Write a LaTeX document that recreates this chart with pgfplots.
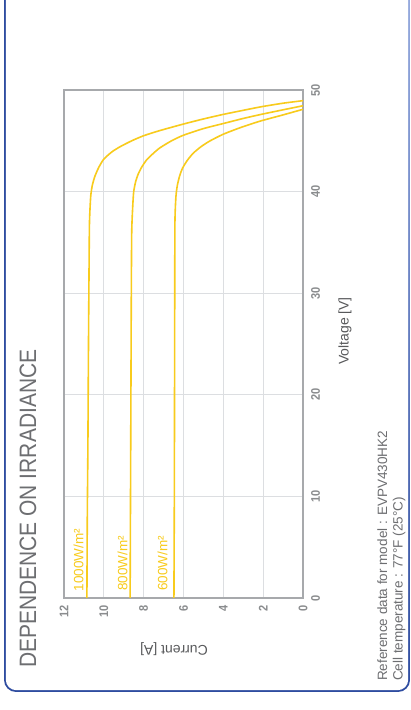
\documentclass[border=0pt]{standalone}
\usepackage{fontspec}
\setmainfont{Liberation Sans}
\newfontfamily\titlefont[FakeStretch=0.885]{Liberation Sans}
\newfontfamily\narrowfont[FakeStretch=0.88]{Liberation Sans}
\usepackage{pgfplots}
\pgfplotsset{compat=1.18}
\usetikzlibrary{shadings}
\definecolor{pvyellow}{HTML}{F8CB1C}
\definecolor{framegray}{HTML}{A7A9AC}
\definecolor{gridgray}{HTML}{DCDEE1}
\definecolor{textgray}{HTML}{6D6E71}
\definecolor{tickgray}{HTML}{8A8C8E}
\definecolor{labelgray}{HTML}{58595B}
\definecolor{bluedark}{HTML}{2E4CA0}
\definecolor{bluelight}{HTML}{9AAEE0}

% I-V curves (current A, voltage V)
\pgfplotstableread{
I V
10.85 0
10.83 8
10.80 15
10.77 25
10.74 33
10.72 37
10.66 39.5
10.58 40.6
10.45 41.5
10.25 42.4
10.00 43.2
9.60 43.9
9.20 44.4
8.60 45.0
8.00 45.5
7.20 46.0
6.00 46.65
5.00 47.15
4.00 47.6
3.00 48.0
2.10 48.35
1.00 48.7
0.00 48.95
}\irrA
\pgfplotstableread{
I V
8.68 0
8.66 10
8.64 20
8.62 30
8.60 36
8.55 38.5
8.50 40.0
8.40 41.0
8.28 41.7
8.10 42.4
7.86 43.1
7.55 43.7
7.19 44.3
6.60 45.0
6.00 45.55
5.00 46.2
4.00 46.7
3.00 47.2
2.10 47.6
1.00 48.05
0.00 48.45
}\irrB
\pgfplotstableread{
I V
6.48 0
6.46 10
6.45 20
6.44 30
6.43 37
6.38 39.5
6.31 40.6
6.20 41.5
6.05 42.3
5.80 43.1
5.50 43.8
5.10 44.45
4.66 45.0
4.00 45.65
3.14 46.3
2.13 46.95
1.00 47.55
0.00 48.1
}\irrC

\begin{document}
\begin{tikzpicture}
\path[use as bounding box] (0pt,0pt) rectangle (411pt,710pt);
% panel border
\shade[rounded corners=12pt, upper left=bluedark, lower left=bluedark,
  lower right=bluedark, upper right=bluelight] (4pt,18pt) rectangle (410pt,740pt);
\fill[white, rounded corners=10.5pt] (5.8pt,19.8pt) rectangle (408.2pt,740pt);

\begin{axis}[
  at={(64pt,112pt)}, anchor=south west,
  width=239pt, height=508pt, scale only axis,
  xmin=0, xmax=12, x dir=reverse,
  ymin=0, ymax=50,
  xtick={0,2,...,12}, ytick={0,10,...,50},
  grid=major,
  grid style={gridgray, line width=1.3pt},
  axis line style={framegray, line width=1.6pt},
  major tick length=0pt,
  yticklabel pos=right,
  /pgf/number format/assume math mode=true,
  xticklabel style={rotate=90, anchor=east, inner sep=0pt,
    font=\narrowfont\bfseries\fontsize{12.5}{13}\selectfont, text=tickgray},
  yticklabel style={rotate=90, anchor=north, inner sep=0pt,
    font=\narrowfont\bfseries\fontsize{12.5}{13}\selectfont, text=tickgray},
  xticklabel shift=7pt, yticklabel shift=8pt,
]
\addplot[pvyellow, line width=1.6pt, mark=none, smooth, tension=0.4] table[x=I, y=V] {\irrA};
\addplot[pvyellow, line width=1.6pt, mark=none, smooth, tension=0.4] table[x=I, y=V] {\irrB};
\addplot[pvyellow, line width=1.6pt, mark=none, smooth, tension=0.4] table[x=I, y=V] {\irrC};
\begin{scope}[every node/.style={rotate=90, anchor=base west, inner sep=0pt,
    text=pvyellow, font=\fontsize{13.5}{15}\selectfont}]
\node at (axis cs:11.03,0.62) {1000W/m²};
\node at (axis cs:8.82,0.69) {800W/m²};
\node at (axis cs:6.81,0.69) {600W/m²};
\end{scope}
\end{axis}

% title and labels
\node[rotate=90, anchor=base west, inner sep=0pt, text=textgray,
  font=\titlefont\fontsize{23.7}{26}\selectfont] at (36pt,42pt) {DEPENDENCE ON IRRADIANCE};
\node[rotate=180, text=labelgray, font=\fontsize{14}{16}\selectfont] at (174pt,61pt) {Current [A]};
\node[rotate=90, text=labelgray, font=\fontsize{14}{16}\selectfont] at (345pt,379pt) {Voltage [V]};
\node[rotate=90, anchor=base west, inner sep=0pt, text=textgray,
  font=\fontsize{13.5}{15.5}\selectfont] at (387pt,29pt) {Reference data for model : EVPV430HK2};
\node[rotate=90, anchor=base west, inner sep=0pt, text=textgray,
  font=\fontsize{13.5}{15.5}\selectfont] at (402.5pt,29pt) {Cell temperature : 77°F (25°C)};
\end{tikzpicture}
\end{document}
